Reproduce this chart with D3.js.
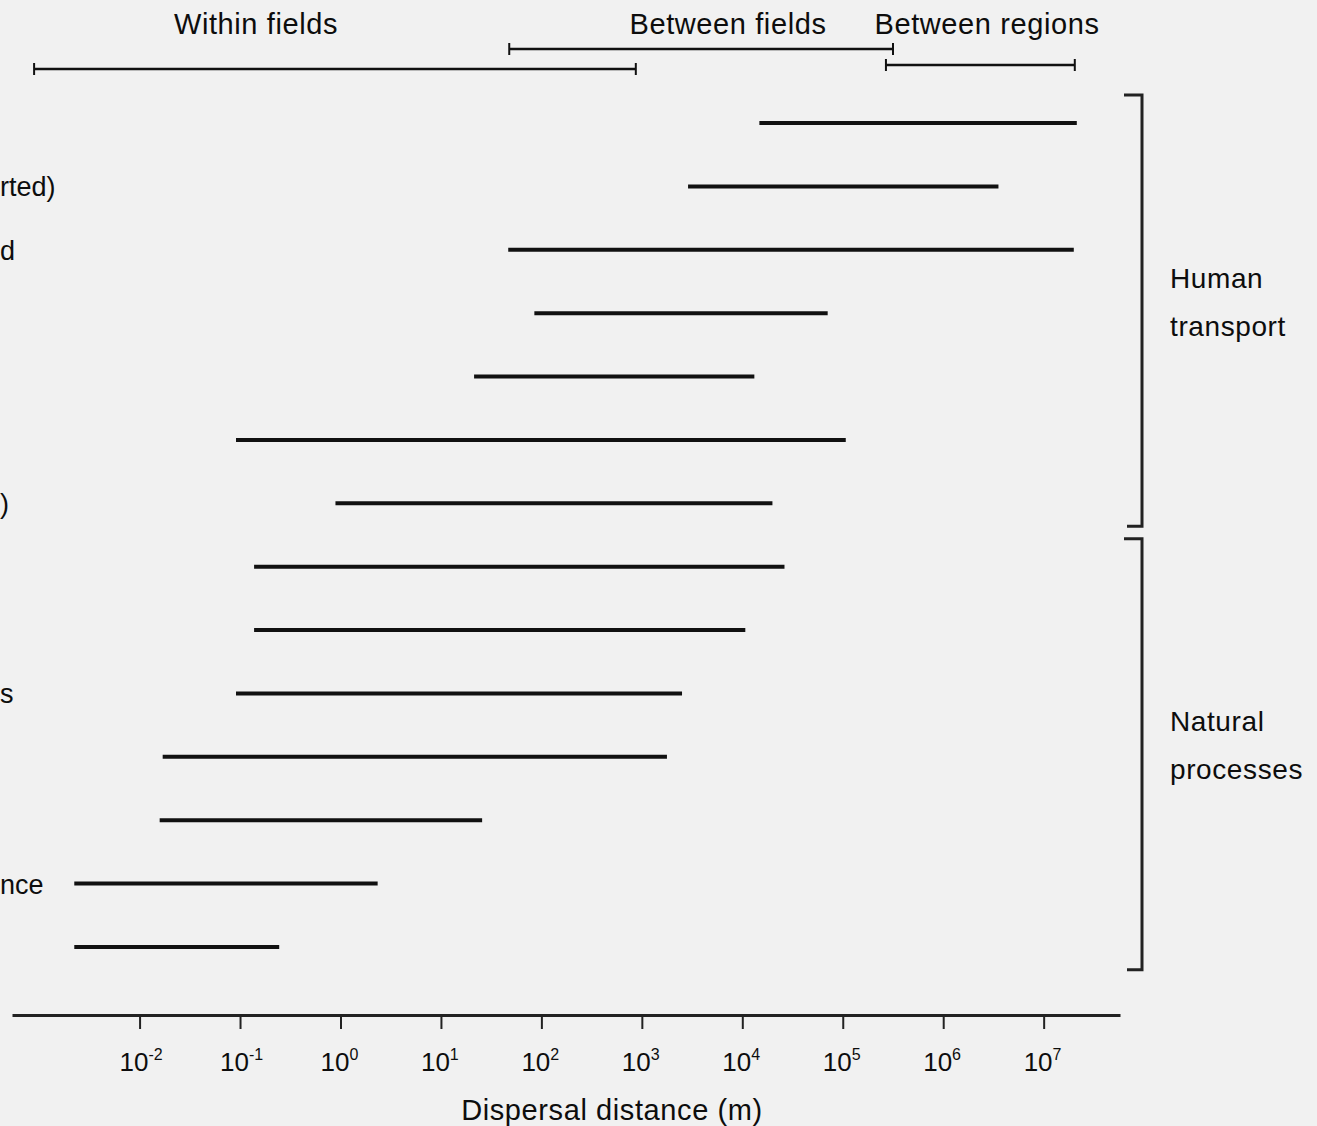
<!DOCTYPE html>
<html>
<head>
<meta charset="utf-8">
<script src="https://cdn.jsdelivr.net/npm/d3@7"></script>
<style>
  html, body { margin: 0; padding: 0; background: #f1f1f1; }
  svg { display: block; }
  text { font-family: "Liberation Sans", Arial, sans-serif; fill: #0d0d0d; }
</style>
</head>
<body>
<div id="chart"></div>
<script>
// dispersal ranges, log10 of metres, one row per mechanism (top to bottom)
var rowLabels = ["", "rted)", "d", "", "", "", ")", "", "", "s", "", "", "nce", ""];
var startExp = [4.17, 3.46, 1.67, 1.93, 1.33, -1.04, -0.05, -0.86, -0.86, -1.04, -1.77, -1.80, -2.65, -2.65];
var endExp   = [7.33, 6.55, 7.30, 4.85, 4.12, 5.03, 4.30, 4.42, 4.03, 3.40, 3.25, 1.41, 0.37, -0.61];

// spatial scale ranges shown across the top
var scaleNames = ["Within fields", "Between fields", "Between regions"];
var scaleLo = [-3.05, 1.68, 5.43];
var scaleHi = [2.94, 5.50, 7.31];

// bracket groups on the right
var groupNames = [["Human", "transport"], ["Natural", "processes"]];
var groupFirst = [0, 7];
var groupLast = [6, 13];

var tickExp = [-2, -1, 0, 1, 2, 3, 4, 5, 6, 7];

var width = 1317, height = 1126;

var svg = d3.select("#chart").append("svg")
    .attr("width", width)
    .attr("height", height);

var x = d3.scaleLog()
    .domain([Math.pow(10, -3.27), Math.pow(10, 7.76)])
    .range([12, 1120]);

var rows = d3.range(startExp.length);
var y = d3.scalePoint()
    .domain(rows)
    .range([123, 947]);
var step = y.step();

// x axis
var axisY = 1015;
var axis = d3.axisBottom(x)
    .tickValues(tickExp.map(function (e) { return Math.pow(10, e); }))
    .tickSize(14)
    .tickSizeOuter(0)
    .tickFormat("");

var gAxis = svg.append("g")
    .attr("transform", "translate(0," + axisY + ")")
    .call(axis);
gAxis.select(".domain").attr("stroke", "#222").attr("stroke-width", 3);
gAxis.selectAll(".tick line").attr("stroke", "#222").attr("stroke-width", 2);

// tick labels 10^n
var lab = svg.append("g").selectAll("text")
    .data(tickExp)
    .enter().append("text")
    .attr("x", function (d) { return x(Math.pow(10, d)) - 20; })
    .attr("y", axisY + 56)
    .style("font-size", "26px");
lab.append("tspan").text("10");
lab.append("tspan")
    .attr("dy", -11)
    .style("font-size", "16px")
    .text(function (d) { return d < 0 ? "-" + (-d) : d; });

svg.append("text")
    .attr("x", 612)
    .attr("y", 1120)
    .attr("text-anchor", "middle")
    .style("font-size", "29px")
    .style("letter-spacing", "0.6px")
    .text("Dispersal distance (m)");

// dispersal bars
svg.append("g").selectAll("line")
    .data(rows)
    .enter().append("line")
    .attr("x1", function (i) { return x(Math.pow(10, startExp[i])); })
    .attr("x2", function (i) { return x(Math.pow(10, endExp[i])); })
    .attr("y1", function (i) { return y(i); })
    .attr("y2", function (i) { return y(i); })
    .attr("stroke", "#111")
    .attr("stroke-width", 4);

// truncated row labels on the left edge
svg.append("g").selectAll("text")
    .data(rows)
    .enter().append("text")
    .attr("x", 0)
    .attr("y", function (i) { return y(i) + 10; })
    .style("font-size", "27px")
    .text(function (i) { return rowLabels[i]; });

// top range markers
var rangeY = [69, 49, 65];
var rangeLabelX = [256, 728, 987];
var gr = svg.append("g");
scaleNames.forEach(function (name, i) {
    var x1 = x(Math.pow(10, scaleLo[i])), x2 = x(Math.pow(10, scaleHi[i]));
    gr.append("line")
        .attr("x1", x1).attr("x2", x2)
        .attr("y1", rangeY[i]).attr("y2", rangeY[i])
        .attr("stroke", "#111").attr("stroke-width", 2.5);
    [x1, x2].forEach(function (xx) {
        gr.append("line")
            .attr("x1", xx).attr("x2", xx)
            .attr("y1", rangeY[i] - 6).attr("y2", rangeY[i] + 6)
            .attr("stroke", "#111").attr("stroke-width", 2);
    });
    gr.append("text")
        .attr("x", rangeLabelX[i])
        .attr("y", 34)
        .attr("text-anchor", "middle")
        .style("font-size", "29px")
        .style("letter-spacing", "0.6px")
        .text(name);
});

// right-hand brackets
var bx = 1142;
groupNames.forEach(function (name, i) {
    var top = y(groupFirst[i]) - step * 0.44;
    var bot = y(groupLast[i]) + step * 0.36;
    svg.append("path")
        .attr("d", "M" + (bx - 18) + "," + top + "H" + bx + "V" + bot + "H" + (bx - 15))
        .attr("fill", "none")
        .attr("stroke", "#222")
        .attr("stroke-width", 3);
    var mid = (top + bot) / 2;
    [name[0], name[1]].forEach(function (t, k) {
        svg.append("text")
            .attr("x", bx + 28)
            .attr("y", mid - 23 + k * 48)
            .style("font-size", "28px")
            .style("letter-spacing", "0.6px")
            .text(t);
    });
});
</script>
</body>
</html>
